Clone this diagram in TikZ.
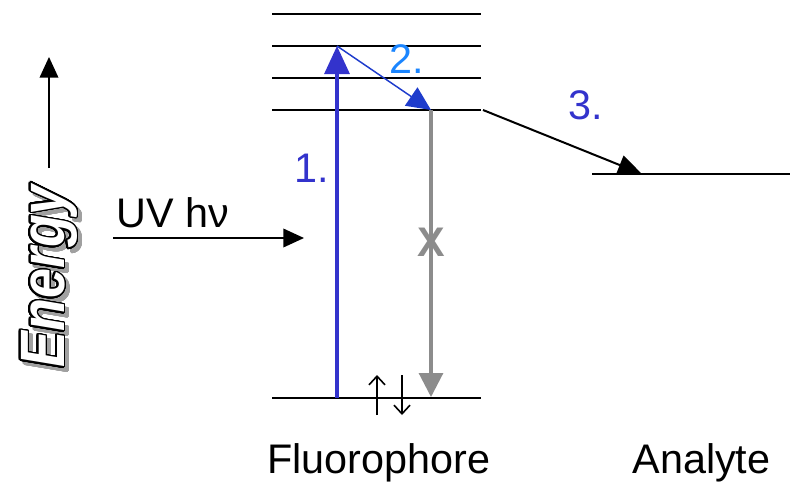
\documentclass[tikz,border=0pt]{standalone}
\usepackage{fontspec}
\setmainfont{Liberation Sans}
\usepackage[copies]{contour}
\usetikzlibrary{arrows.meta}
\definecolor{exblue}{HTML}{3333CC}
\definecolor{relblue}{HTML}{1E3CCC}
\definecolor{numblue}{HTML}{1A85FF}
\definecolor{decgray}{HTML}{8C8C8C}
\definecolor{shadowgray}{HTML}{A0A0A0}
\contourlength{1.2pt}
\contournumber{32}
\begin{document}
\begin{tikzpicture}[x=0.75pt,y=-0.75pt,
  levelline/.style={line width=1.5pt, black},
  lbl/.style={font=\fontsize{31}{36}\selectfont, inner sep=0pt, anchor=base},
  excite/.style={line width=2.3pt, exblue, -{Triangle[width=18.75pt,length=21pt]}},
  relax/.style={line width=1.1pt, relblue, -{Triangle[width=16.5pt,length=18pt]}},
  decay/.style={line width=2.3pt, decgray, -{Triangle[width=18pt,length=18pt]}},
  transfer/.style={line width=1.5pt, black, -{Triangle[width=15pt,length=18pt]}},
  thinarrow/.style={line width=1.1pt, black, -{Triangle[width=14pt,length=15.5pt]}},
  spin/.style={line width=1.2pt, black, -{Straight Barb[width=12pt,length=6.5pt]}},
]
\useasboundingbox (0,0) rectangle (791,483);

% fluorophore levels
\foreach \n/\yy in {sa/14, sb/46, sc/78, sd/110, gr/398}{
  \coordinate (\n L) at (272,\yy);
  \coordinate (\n R) at (481,\yy);
  \draw[levelline] (\n L) -- (\n R);
}
% analyte level
\coordinate (anL) at (592,174);
\coordinate (anR) at (790,174);
\draw[levelline] (anL) -- (anR);

% transitions
\coordinate (exS) at (337,398);
\coordinate (exE) at (337,46);
\coordinate (rlE) at (431,110);
\coordinate (dcE) at (431,397);
\coordinate (trS) at (483,110);
\coordinate (trE) at (642,174);
\draw[excite] (exS) -- (exE);
\draw[relax] (exE) -- (rlE);
\draw[decay] (rlE) -- (dcE);
\draw[transfer] (trS) -- (trE);
\node[inner sep=0pt, text=decgray, font=\fontsize{31}{36}\selectfont\bfseries] (xmark) at (431,242) {X};

% spins
\coordinate (upS) at (377,415);
\coordinate (upE) at (377,375);
\coordinate (dnS) at (402,375);
\coordinate (dnE) at (402,415);
\draw[spin] (upS) -- (upE);
\draw[spin] (dnS) -- (dnE);

% energy axis
\coordinate (enS) at (49,168);
\coordinate (enE) at (49,57);
\draw[thinarrow] (enS) -- (enE);
\node[inner sep=0pt, anchor=base west, rotate=90, text=shadowgray,
  font=\fontsize{47}{50}\selectfont\bfseries\itshape] (enshadow) at (68,372)
  {\scalebox{0.86}[1]{\contour{shadowgray}{Energy}}};
\node[inner sep=0pt, anchor=base west, rotate=90,
  font=\fontsize{47}{50}\selectfont\bfseries\itshape] (energy) at (64,368)
  {\scalebox{0.86}[1]{\contour{black}{\textcolor{white}{Energy}}}};

% UV input
\coordinate (uvS) at (113,238);
\coordinate (uvE) at (304,238);
\draw[thinarrow] (uvS) -- (uvE);
\node[lbl, anchor=base west] (uv) at (116,227) {UV h\char"03BD};

% labels
\node[lbl, text=exblue] (one) at (312,182) {1.};
\node[lbl, text=numblue] (two) at (407,73) {2.};
\node[lbl, text=exblue] (three) at (586,119) {3.};
\node[lbl] (fluor) at (379,473) {Fluorophore};
\node[lbl] (analyte) at (701.5,473) {Analyte};
\end{tikzpicture}
\end{document}
